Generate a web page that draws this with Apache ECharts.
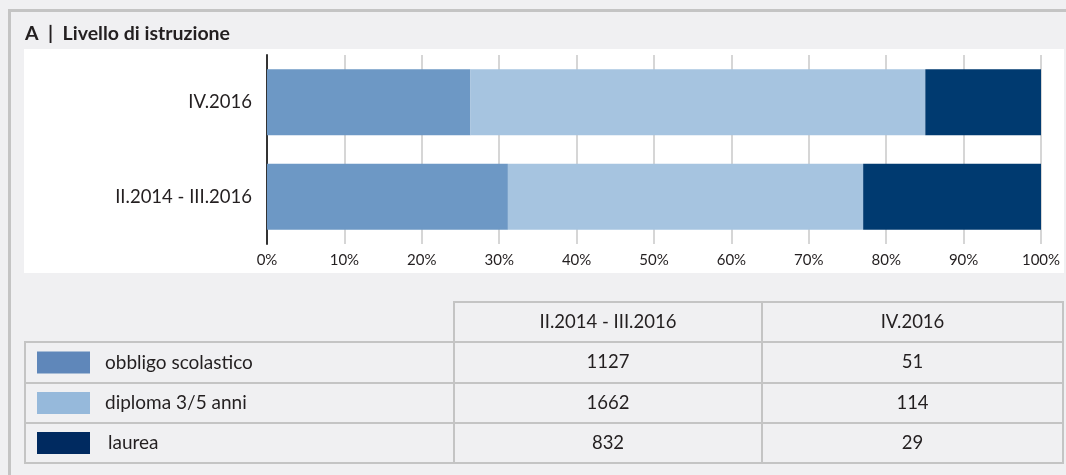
<!DOCTYPE html>
<html>
<head>
<meta charset="utf-8">
<script src="https://cdn.jsdelivr.net/npm/echarts@6/dist/echarts.min.js"></script>
<style>
  html, body { margin: 0; padding: 0; background: #f0f0f2; }
  #main { width: 1066px; height: 475px; }
</style>
</head>
<body>
<div id="main"></div>
<script>
var periods = ['II.2014 - III.2016', 'IV.2016'];
var seriesNames = ['obbligo scolastico', 'diploma 3/5 anni', 'laurea'];
var obbligo = [1127, 51];
var diploma = [1662, 114];
var laurea = [832, 29];
var colors = ['#6d98c5', '#a6c4e0', '#003a70'];
var swatchColors = ['#5f87ba', '#96b9db', '#002a60'];

var FONT = 'Lato';
var TEXT = '#231f20';
var LINE = '#c4c4c4';

var counts = [obbligo, diploma, laurea];
var totals = periods.map(function (p, i) {
    return obbligo[i] + diploma[i] + laurea[i];
});
function pct(arr) {
    return arr.map(function (v, i) { return v / totals[i] * 100; });
}

// table geometry
var colX = [25, 454, 762, 1063];
var headTop = 302, headBottom = 342;
var rowY = [342, 383, 423, 463];

var graphics = [];
// white panel behind chart
graphics.push({ type: 'rect', z: -10, shape: { x: 24, y: 49, width: 1040, height: 224 }, style: { fill: '#ffffff' } });
// outer frame lines
graphics.push({ type: 'rect', shape: { x: 8, y: 9, width: 3, height: 466 }, style: { fill: LINE } });
graphics.push({ type: 'rect', shape: { x: 8, y: 9, width: 1058, height: 3 }, style: { fill: LINE } });
// title
graphics.push({ type: 'text', x: 25, y: 34, style: { text: 'A  |  Livello di istruzione', font: 'bold 19.5px ' + FONT, fill: TEXT, verticalAlign: 'middle' } });

var ls = { stroke: LINE, lineWidth: 2 };
// header box
graphics.push({ type: 'rect', shape: { x: colX[1], y: headTop, width: colX[3] - colX[1], height: headBottom - headTop }, style: { fill: 'none', stroke: LINE, lineWidth: 2 } });
graphics.push({ type: 'line', shape: { x1: colX[2], y1: headTop, x2: colX[2], y2: rowY[3] }, style: ls });
// body box
graphics.push({ type: 'rect', shape: { x: colX[0], y: rowY[0], width: colX[3] - colX[0], height: rowY[3] - rowY[0] }, style: { fill: 'none', stroke: LINE, lineWidth: 2 } });
graphics.push({ type: 'line', shape: { x1: colX[1], y1: rowY[0], x2: colX[1], y2: rowY[3] }, style: ls });
graphics.push({ type: 'line', shape: { x1: colX[0], y1: rowY[1], x2: colX[3], y2: rowY[1] }, style: ls });
graphics.push({ type: 'line', shape: { x1: colX[0], y1: rowY[2], x2: colX[3], y2: rowY[2] }, style: ls });

periods.forEach(function (p, j) {
    graphics.push({ type: 'text', x: (colX[j + 1] + colX[j + 2]) / 2, y: (headTop + headBottom) / 2,
        style: { text: p, font: '18.5px ' + FONT, fill: TEXT, align: 'center', verticalAlign: 'middle' } });
});
seriesNames.forEach(function (name, i) {
    var cy = (rowY[i] + rowY[i + 1]) / 2;
    graphics.push({ type: 'rect', shape: { x: 37, y: cy - 11, width: 53, height: 22 }, style: { fill: swatchColors[i] } });
    graphics.push({ type: 'text', x: i === 2 ? 108 : 105, y: cy, style: { text: name, font: '19px ' + FONT, fill: TEXT, verticalAlign: 'middle' } });
    periods.forEach(function (p, j) {
        graphics.push({ type: 'text', x: (colX[j + 1] + colX[j + 2]) / 2, y: cy,
            style: { text: String(counts[i][j]), font: '18.5px ' + FONT, fill: TEXT, align: 'center', verticalAlign: 'middle' } });
    });
});

var chart = echarts.init(document.getElementById('main'));
chart.setOption({
    animation: false,
    backgroundColor: '#f0f0f2',
    textStyle: { fontFamily: FONT },
    grid: { left: 267, right: 25, top: 55, height: 189, containLabel: false },
    xAxis: {
        type: 'value',
        min: 0,
        max: 100,
        interval: 10,
        axisLine: { show: false },
        axisTick: { show: false },
        axisLabel: { formatter: '{value}%', color: TEXT, fontSize: 15, margin: 9 },
        splitLine: { lineStyle: { color: '#d6d6d6', width: 2 } }
    },
    yAxis: {
        type: 'category',
        data: periods,
        axisLine: { lineStyle: { color: '#333333', width: 2 } },
        axisTick: { show: false },
        axisLabel: { color: TEXT, fontSize: 18.5, margin: 15 }
    },
    series: seriesNames.map(function (name, i) {
        return {
            name: name,
            type: 'bar',
            stack: 'tot',
            barWidth: 66,
            itemStyle: { color: colors[i] },
            data: pct(counts[i])
        };
    }),
    graphic: graphics
});
</script>
</body>
</html>
